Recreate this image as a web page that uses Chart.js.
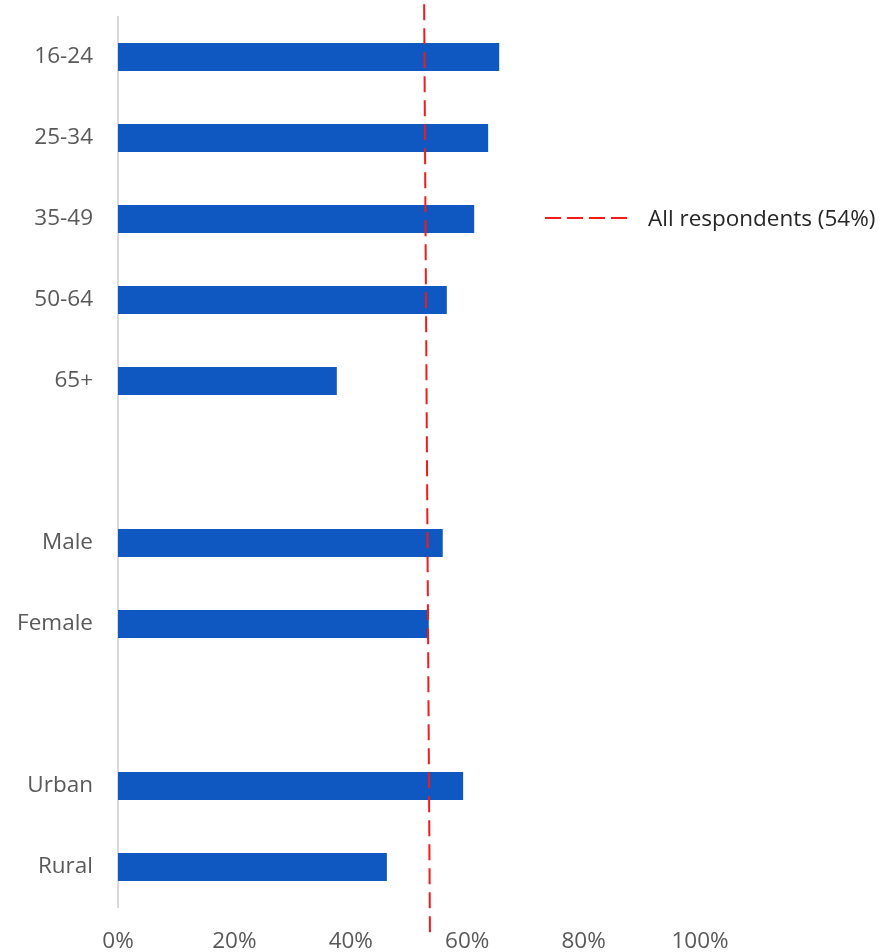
<!DOCTYPE html>
<html>
<head>
<meta charset="utf-8">
<script src="https://cdn.jsdelivr.net/npm/chart.js@4/dist/chart.umd.min.js"></script>
<style>
  html, body { margin: 0; padding: 0; background: #fff; }
  #wrap { position: relative; width: 881px; height: 952px; }
  #legend {
    position: absolute; left: 545px; top: 202px;
    font-family: "Open Sans", sans-serif; font-size: 22.5px; color: #262626;
    display: flex; align-items: center; white-space: nowrap;
  }
  #legend .swatch {
    width: 82px; height: 2px;
    background: repeating-linear-gradient(90deg, #f41a1a 0 16px, transparent 16px 22px);
    margin-right: 21px;
  }
</style>
</head>
<body>
<div id="wrap">
  <canvas id="chart" width="881" height="952"></canvas>
  <div id="legend"><span class="swatch"></span><span>All respondents (54%)</span></div>
</div>
<script>
const categories = ["16-24", "25-34", "35-49", "50-64", "65+", "", "Male", "Female", "", "Urban", "Rural"];
const shares = [65.5, 63.6, 61.2, 56.5, 37.6, null, 55.8, 53.4, null, 59.3, 46.2];
const xTicks = [0, 20, 40, 60, 80, 100];
// reference line for all respondents, drawn a touch slanted as in the source
const refLineX = [52.6, 53.6];
const refLineY = [-0.15, 11.35];

const tickFont = { family: "Open Sans", size: 22.5 };

const ctx = document.getElementById("chart");

new Chart(ctx, {
  data: {
    labels: categories,
    datasets: [
      {
        type: "bar",
        label: "Share",
        data: shares,
        backgroundColor: "#0f58c2",
        grouped: false,
        categoryPercentage: 1,
        barPercentage: 0.345,
        yAxisID: "y",
        order: 2
      },
      {
        type: "line",
        label: "All respondents (54%)",
        data: refLineX.map((x, i) => ({ x: x, y: refLineY[i] })),
        borderColor: "#f41a1a",
        borderWidth: 2,
        borderDash: [16, 8],
        pointRadius: 0,
        fill: false,
        clip: false,
        yAxisID: "y2",
        order: 1
      }
    ]
  },
  options: {
    indexAxis: "y",
    responsive: false,
    animation: false,
    layout: { padding: { top: 16.5, right: 181, bottom: 0, left: 0 } },
    plugins: {
      legend: { display: false },
      tooltip: { enabled: false }
    },
    scales: {
      x: {
        type: "linear",
        min: 0,
        max: 100,
        afterBuildTicks: scale => {
          scale.ticks = xTicks.map(v => ({ value: v }));
        },
        grid: { display: false, drawTicks: true, tickLength: 21 },
        border: { display: false },
        ticks: {
          padding: 0,
          color: "#595959",
          font: tickFont,
          callback: v => v + "%"
        },
        afterFit: scale => { scale.height = 44.5; }
      },
      y: {
        type: "category",
        position: "left",
        grid: { display: false, drawTicks: true, tickLength: 25 },
        border: { display: true, color: "#d9d9d9", width: 2 },
        ticks: {
          padding: 0,
          color: "#595959",
          font: tickFont
        },
        afterFit: scale => { scale.width = 118; }
      },
      y2: {
        type: "linear",
        display: false,
        min: 0,
        max: 11,
        reverse: true
      }
    }
  }
});
</script>
</body>
</html>
